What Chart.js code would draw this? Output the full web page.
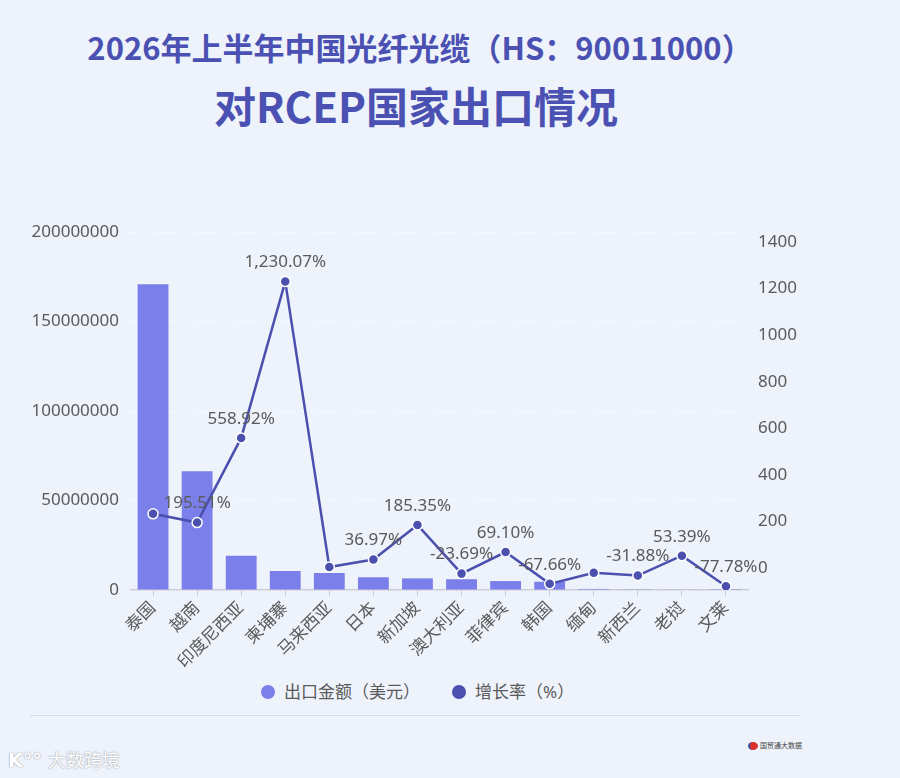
<!DOCTYPE html>
<html lang="zh-CN">
<head>
<meta charset="utf-8">
<title>2026年上半年中国光纤光缆对RCEP国家出口情况</title>
<script src="https://cdn.jsdelivr.net/npm/chart.js@4.4.1/dist/chart.umd.min.js"></script>
<style>
    html, body {
        margin: 0;
        padding: 0;
        width: 900px;
        height: 778px;
        background: #eef2fa;
        overflow: hidden;
        font-family: "Noto Sans", "Noto Sans CJK SC", sans-serif;
    }
    .titulo {
        position: absolute;
        width: 828px;
        text-align: center;
        color: #4b51b2;
        font-family: "Noto Sans CJK SC", sans-serif;
        font-weight: 700;
        white-space: nowrap;
    }
    #t1 { left: 6px; top: 27px; font-size: 31px; line-height: 40px; }
    #t2 { left: 2px; top: 78px; font-size: 42px; line-height: 54px; }
    #grafico-box {
        position: absolute;
        left: 0;
        top: 200px;
        width: 828px;
        height: 480px;
    }
    #leyenda {
        position: absolute;
        top: 680px;
        left: 0;
        height: 24px;
        width: 828px;
        font-size: 17px;
        color: #5a5a5a;
        font-family: "Noto Sans", "Noto Sans CJK SC", sans-serif;
    }
    #leyenda .item {
        position: absolute;
        top: 0;
        line-height: 24px;
        white-space: nowrap;
    }
    #leyenda .punto {
        position: absolute;
        top: 5px;
        width: 14px;
        height: 14px;
        border-radius: 50%;
    }
    #separador {
        position: absolute;
        left: 30px;
        top: 715px;
        width: 770px;
        height: 1px;
        background: #d6dae2;
    }
    #marca {
        position: absolute;
        left: 8px;
        top: 746px;
        font-family: "Noto Sans CJK SC", sans-serif;
        font-size: 18px;
        color: #ffffff;
        text-shadow: 0 0 1px #9aa0aa, 0 0 2px #b0b5be;
    }
    #marca b { font-family: "DejaVu Sans", sans-serif; font-size: 19px; margin-right: 6px; }
    #logo {
        position: absolute;
        left: 748px;
        top: 740px;
        font-size: 7px;
        color: #444;
        font-family: "Noto Sans CJK SC", sans-serif;
        white-space: nowrap;
    }
    #logo span {
        display: inline-block;
        width: 8px;
        height: 8px;
        border-radius: 50%;
        background: #d8312e;
        border-left: 2px solid #2e4d9a;
        vertical-align: middle;
        margin-right: 2px;
    }
</style>
</head>
<body>
<div class="titulo" id="t1">2026年上半年中国光纤光缆（HS：90011000）</div>
<div class="titulo" id="t2">对RCEP国家出口情况</div>
<div id="grafico-box"><canvas id="chart-rcep"></canvas></div>
<div id="leyenda"></div>
<div id="separador"></div>
<div id="marca"><b>K°°</b>大数跨境</div>
<div id="logo"><span></span>国贸通大数据</div>

<script>
// Datos
const paises = ['泰国', '越南', '印度尼西亚', '柬埔寨', '马来西亚', '日本', '新加坡',
    '澳大利亚', '菲律宾', '韩国', '缅甸', '新西兰', '老挝', '文莱'];
const exportUSD = [170800000, 66300000, 19200000, 10600000, 9500000, 7100000, 6500000,
    6000000, 5000000, 4600000, 600000, 400000, 250000, 80000];
const crecimiento = [233, 195.51, 558.92, 1230.07, 5, 36.97, 185.35,
    -23.69, 69.10, -67.66, -20, -31.88, 53.39, -77.78];
const ticksIzq = [0, 50000000, 100000000, 150000000, 200000000];
const ticksDer = [0, 200, 400, 600, 800, 1000, 1200, 1400];

const COLOR_BARRA = '#7b7fea';
const COLOR_LINEA = '#4b4fae';
const COLOR_TEXTO = '#5a5a5a';
const FUENTE = '"Noto Sans", "Noto Sans CJK SC", sans-serif';

// Etiquetas de la línea, ocultando las que se solapan (de derecha a izquierda)
const etiquetasLinea = {
    id: 'etiquetasLinea',
    afterDatasetsDraw(chart) {
        const meta = chart.getDatasetMeta(0);
        const ctx = chart.ctx;
        ctx.save();
        ctx.font = '17px ' + FUENTE;
        ctx.fillStyle = COLOR_TEXTO;
        ctx.textAlign = 'center';
        ctx.textBaseline = 'middle';
        const dibujadas = [];
        for (let i = meta.data.length - 1; i >= 0; i--) {
            const p = meta.data[i];
            const txt = crecimiento[i].toLocaleString('en-US', {
                minimumFractionDigits: 2, maximumFractionDigits: 2
            }) + '%';
            const w = ctx.measureText(txt).width;
            const r = { x1: p.x - w / 2, x2: p.x + w / 2, y1: p.y - 27, y2: p.y - 11 };
            const choca = dibujadas.some(d => r.x1 < d.x2 && r.x2 > d.x1 && r.y1 < d.y2 && r.y2 > d.y1);
            if (choca) continue;
            dibujadas.push(r);
            ctx.fillText(txt, p.x, p.y - 19);
        }
        ctx.restore();
    }
};

// Leyenda en HTML a partir de los datasets
function crearLeyenda(chart) {
    const cont = document.getElementById('leyenda');
    const items = [
        { ds: chart.data.datasets[1], color: COLOR_BARRA, x: 261 },
        { ds: chart.data.datasets[0], color: COLOR_LINEA, x: 452 }
    ];
    cont.innerHTML = items.map(it => `
        <div class="item" style="left:${it.x}px">
            <span class="punto" style="left:0;background:${it.color}"></span>
            <span style="margin-left:23px">${it.ds.label}</span>
        </div>
    `).join('');
}

function crearGrafico() {
    const ctx = document.getElementById('chart-rcep');

    const chart = new Chart(ctx, {
        type: 'bar',
        data: {
            labels: paises,
            datasets: [{
                type: 'line',
                label: '增长率（%）',
                data: crecimiento,
                yAxisID: 'y1',
                borderColor: COLOR_LINEA,
                backgroundColor: COLOR_LINEA,
                borderWidth: 2.5,
                pointRadius: 5,
                pointBackgroundColor: COLOR_LINEA,
                pointBorderColor: '#ffffff',
                pointBorderWidth: 1.5,
                tension: 0
            }, {
                type: 'bar',
                label: '出口金额（美元）',
                data: exportUSD,
                yAxisID: 'y',
                backgroundColor: COLOR_BARRA,
                barPercentage: 0.7,
                categoryPercentage: 1.0
            }]
        },
        options: {
            responsive: true,
            maintainAspectRatio: false,
            animation: false,
            layout: {
                padding: { top: 32, bottom: 0, left: 0, right: 0 }
            },
            plugins: {
                tooltip: { enabled: false },
                legend: { display: false }
            },
            scales: {
                x: {
                    grid: {
                        offset: false,
                        drawOnChartArea: false,
                        drawTicks: true,
                        tickLength: 6,
                        color: '#c9ccd3'
                    },
                    border: { display: true, color: '#c9ccd3', width: 1.5 },
                    ticks: {
                        minRotation: 45,
                        maxRotation: 45,
                        autoSkip: false,
                        padding: 2,
                        color: COLOR_TEXTO,
                        font: { size: 17, family: FUENTE }
                    },
                    afterFit(scale) { scale.height = 90; }
                },
                y: {
                    position: 'left',
                    min: 0,
                    max: 200000000,
                    afterBuildTicks(scale) {
                        scale.ticks = ticksIzq.map(v => ({ value: v }));
                    },
                    ticks: {
                        padding: 12,
                        color: COLOR_TEXTO,
                        font: { size: 17, family: FUENTE },
                        callback: v => String(v)
                    },
                    grid: {
                        drawTicks: false,
                        color: 'rgba(255,255,255,0.6)',
                        lineWidth: 1
                    },
                    border: { display: false, dash: [5, 5] },
                    afterFit(scale) { scale.width = 131; }
                },
                y1: {
                    position: 'right',
                    min: -94,
                    max: 1443,
                    afterBuildTicks(scale) {
                        scale.ticks = ticksDer.map(v => ({ value: v }));
                    },
                    ticks: {
                        padding: 10,
                        color: COLOR_TEXTO,
                        font: { size: 17, family: FUENTE },
                        callback: v => String(v)
                    },
                    grid: { display: false, drawTicks: false },
                    border: { display: false },
                    afterFit(scale) { scale.width = 80; }
                }
            }
        },
        plugins: [etiquetasLinea]
    });

    crearLeyenda(chart);
}

document.addEventListener('DOMContentLoaded', crearGrafico);
</script>
</body>
</html>
